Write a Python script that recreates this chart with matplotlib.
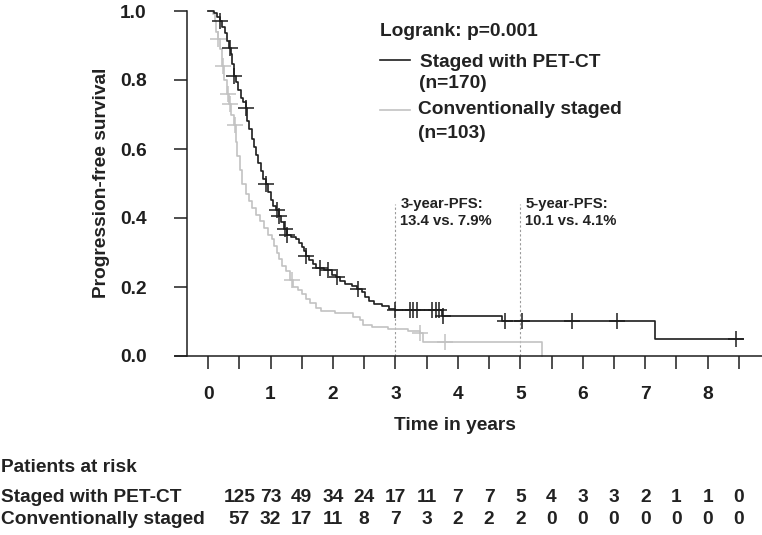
import numpy as np
import matplotlib
matplotlib.use("Agg")
import matplotlib.pyplot as plt

plt.rcParams['font.family'] = ['Liberation Sans', 'DejaVu Sans']
plt.rcParams['font.weight'] = 'bold'

# Kaplan-Meier curves (time in years, survival after the step)
pet_t = [0, 0.10, 0.15, 0.19, 0.23, 0.27, 0.30, 0.33, 0.36, 0.39, 0.42, 0.45, 0.48,
         0.52, 0.56, 0.60, 0.63, 0.66, 0.70, 0.73, 0.77, 0.80, 0.84, 0.88, 0.92,
         0.96, 1.00, 1.04, 1.08, 1.13, 1.17, 1.21, 1.26, 1.32, 1.40, 1.46, 1.50,
         1.53, 1.56, 1.62, 1.68, 1.73, 1.85, 1.98, 2.05, 2.12, 2.20, 2.30, 2.38,
         2.46, 2.52, 2.58, 2.66, 2.78, 2.90, 3.00, 3.75, 4.70, 7.16, 8.56]
pet_s = [1.0, 0.994, 0.982, 0.971, 0.953, 0.935, 0.912, 0.894, 0.876, 0.847, 0.812,
         0.794, 0.771, 0.747, 0.735, 0.718, 0.682, 0.659, 0.629, 0.606, 0.582,
         0.559, 0.535, 0.512, 0.500, 0.476, 0.453, 0.435, 0.423, 0.405, 0.387,
         0.369, 0.351, 0.345, 0.339, 0.327, 0.315, 0.303, 0.291, 0.278, 0.266,
         0.254, 0.248, 0.236, 0.229, 0.217, 0.210, 0.202, 0.195, 0.185, 0.172,
         0.160, 0.152, 0.144, 0.137, 0.134, 0.117, 0.101, 0.050, 0.050]
pet_cens = [0.19, 0.35, 0.42, 0.60, 0.92, 1.10, 1.13, 1.23, 1.26, 1.57, 1.79, 1.92,
            2.07, 2.40, 3.00, 3.23, 3.28, 3.35, 3.59, 3.65, 3.70, 3.76, 4.75, 5.03,
            5.82, 6.55, 8.46]

conv_t = [0, 0.08, 0.11, 0.13, 0.16, 0.19, 0.22, 0.26, 0.30, 0.33, 0.37, 0.41, 0.44,
          0.47, 0.51, 0.55, 0.60, 0.66, 0.70, 0.76, 0.83, 0.90, 0.96, 1.02, 1.06,
          1.10, 1.13, 1.19, 1.25, 1.31, 1.36, 1.44, 1.50, 1.57, 1.63, 1.72, 1.80,
          2.03, 2.32, 2.44, 2.48, 2.62, 2.88, 3.20, 3.39, 3.44, 5.35]
conv_s = [1.0, 0.99, 0.97, 0.94, 0.92, 0.89, 0.84, 0.80, 0.76, 0.73, 0.70, 0.67, 0.62,
          0.58, 0.54, 0.50, 0.47, 0.45, 0.43, 0.41, 0.39, 0.37, 0.35, 0.34, 0.32,
          0.30, 0.28, 0.26, 0.245, 0.22, 0.20, 0.19, 0.18, 0.165, 0.155, 0.14, 0.13,
          0.124, 0.113, 0.103, 0.090, 0.085, 0.079, 0.073, 0.066, 0.040, 0.0]
conv_cens = [0.16, 0.24, 0.32, 0.35, 0.43, 1.34, 3.39, 3.79]

risk_times = [0.5, 1, 1.5, 2, 2.5, 3, 3.5, 4, 4.5, 5, 5.5, 6, 6.5, 7, 7.5, 8, 8.5]
risk_pet = [125, 73, 49, 34, 24, 17, 11, 7, 7, 5, 4, 3, 3, 2, 1, 1, 0]
risk_conv = [57, 32, 17, 11, 8, 7, 3, 2, 2, 2, 0, 0, 0, 0, 0, 0, 0]

W, H = 762, 535
fig = plt.figure(figsize=(W / 100, H / 100), dpi=100)
ax = fig.add_axes([175 / W, 1 - 356 / H, (W - 175) / W, 345 / H])

dark = '#1e1e1e'
light = '#c2c2c2'
txt = '#222222'


def surv_at(t, ts, ss, times):
    ts = np.array(ts)
    ss = np.array(ss)
    idx = np.searchsorted(ts, times, side='right') - 1
    return ss[idx]


ax.step(conv_t, conv_s, where='post', color=light, lw=1.2, clip_on=False, zorder=2)
ax.plot(conv_cens, surv_at(0, conv_t, conv_s, conv_cens), '+', color=light,
        ms=11, mew=1.1, clip_on=False, zorder=2)
ax.step(pet_t, pet_s, where='post', color=dark, lw=1.2, clip_on=False, zorder=3)
ax.plot(pet_cens, surv_at(0, pet_t, pet_s, pet_cens), '+', color=dark,
        ms=11, mew=1.1, clip_on=False, zorder=3)

for x in [3, 5]:
    ax.plot([x, x], [0, 0.44], color='#9a9a9a', lw=0.8, ls=(0, (2, 2)), zorder=1)

ax.text(3.08, 0.415, '3-year-PFS:\n13.4 vs. 7.9%', fontsize=10.7, color=txt,
        va='center', ha='left', linespacing=1.25)
ax.text(5.08, 0.415, '5-year-PFS:\n10.1 vs. 4.1%', fontsize=10.7, color=txt,
        va='center', ha='left', linespacing=1.25)

ax.set_xlim(-0.53, 8.87)
ax.set_ylim(0, 1.0)
ax.spines['top'].set_visible(False)
ax.spines['right'].set_visible(False)
ax.spines['left'].set_position(('data', -0.33))
ax.spines['left'].set_bounds(0, 1)
for sp in ['left', 'bottom']:
    ax.spines[sp].set_linewidth(1.1)
    ax.spines[sp].set_color(dark)

ax.set_yticks(np.arange(0, 1.01, 0.2))
ax.set_yticklabels(['0.0', '0.2', '0.4', '0.6', '0.8', '1.0'])
xt = np.arange(0, 8.51, 0.5)
ax.set_xticks(xt)
ax.set_xticklabels([str(int(v)) if v == int(v) else '' for v in xt])
ax.tick_params(axis='y', length=9.4, width=1.1, pad=20, labelsize=13.8,
               colors=dark)
ax.tick_params(axis='x', length=9.4, width=1.1, pad=12, labelsize=13.8,
               colors=dark)
for lab in ax.get_xticklabels() + ax.get_yticklabels():
    lab.set_fontweight('bold')

fig.text(102 / W, 1 - 183 / H, 'Progression-free survival', rotation=90,
         fontsize=13.8, color=txt, ha='center', va='center')
fig.text(455 / W, 1 - 426 / H, 'Time in years', fontsize=13.8, color=txt,
         ha='center', va='center')


def fx(px):
    return px / W


def fy(py):
    return 1 - py / H


# legend
fig.text(fx(380), fy(32), 'Logrank: p=0.001', fontsize=13.8, color=txt, va='center')
fig.add_artist(plt.Line2D([fx(380), fx(410)], [fy(60), fy(60)], color=dark, lw=1.2))
fig.text(fx(420), fy(62), 'Staged with PET-CT', fontsize=13.8, color=txt, va='center')
fig.text(fx(419), fy(84), '(n=170)', fontsize=13.8, color=txt, va='center')
fig.add_artist(plt.Line2D([fx(380), fx(410)], [fy(110), fy(110)], color=light, lw=1.2))
fig.text(fx(418), fy(110), 'Conventionally staged', fontsize=13.8, color=txt, va='center')
fig.text(fx(418), fy(133), '(n=103)', fontsize=13.8, color=txt, va='center')

# number at risk table
fig.text(fx(1), fy(468), 'Patients at risk', fontsize=13.8, color=txt, va='center')
fig.text(fx(1), fy(498), 'Staged with PET-CT', fontsize=13.8, color=txt, va='center')
fig.text(fx(1), fy(520), 'Conventionally staged', fontsize=13.8, color=txt, va='center')
tr = matplotlib.transforms.blended_transform_factory(ax.transData, fig.transFigure)
for t, a, b in zip(risk_times, risk_pet, risk_conv):
    ax.text(t, fy(498), str(a), transform=tr, ha='center', va='center',
            fontsize=13.8, color=txt, clip_on=False)
    ax.text(t, fy(520), str(b), transform=tr, ha='center', va='center',
            fontsize=13.8, color=txt, clip_on=False)

fig.savefig('out.png', dpi=100)
